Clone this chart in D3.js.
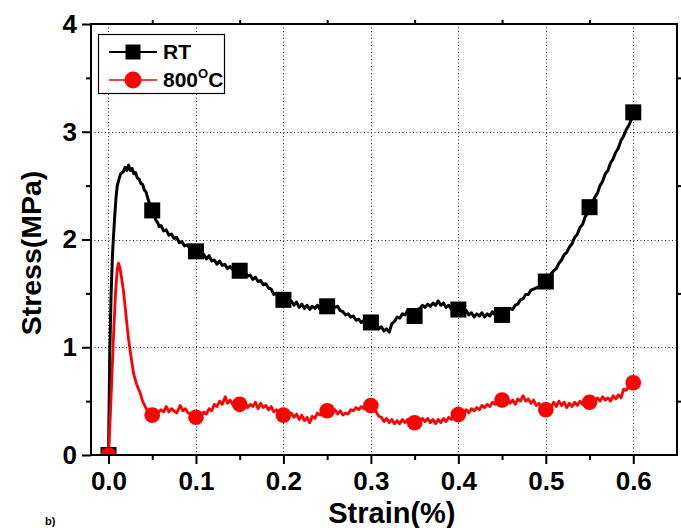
<!DOCTYPE html>
<html>
<head>
<meta charset="utf-8">
<script src="https://cdn.jsdelivr.net/npm/d3@7"></script>
<style>
  html, body { margin: 0; padding: 0; background: #fff; overflow: hidden; }
  text { font-family: "Liberation Sans", Arial, sans-serif; font-weight: bold; }
</style>
</head>
<body>
<svg id="chart" width="681" height="528"></svg>
<script>
// ---- data ----
const xTicks = [0.0, 0.1, 0.2, 0.3, 0.4, 0.5, 0.6];
const xMinorTicks = [0.05, 0.15, 0.25, 0.35, 0.45, 0.55];
const yTicks = [0, 1, 2, 3, 4];
const yMinorTicks = [0.5, 1.5, 2.5, 3.5];
const seriesNames = ["RT", "800"];

const rtCurve = [
  [0,0],[0.0008,0.5],[0.0015,0.97],[0.003,1.5],[0.0045,1.85],[0.0055,2.0],[0.007,2.2],[0.0085,2.38],
  [0.01,2.5],[0.012,2.56],[0.014,2.61],[0.017,2.63],[0.019,2.67],[0.021,2.64],[0.023,2.69],[0.025,2.64],
  [0.027,2.66],[0.029,2.61],[0.031,2.62],[0.033,2.57],[0.035,2.56],[0.037,2.52],[0.039,2.51],[0.041,2.46],
  [0.043,2.44],[0.045,2.38],[0.047,2.33],[0.05,2.27],[0.052,2.24],[0.054,2.18],[0.056,2.16],[0.058,2.12],
  [0.06,2.13],[0.063,2.08],[0.066,2.09],[0.069,2.04],[0.072,2.05],[0.075,2.01],[0.078,2.02],[0.081,1.97],
  [0.084,1.98],[0.087,1.94],[0.09,1.95],[0.094,1.91],[0.097,1.92],[0.1,1.89],[0.103,1.88],[0.106,1.85],
  [0.109,1.86],[0.112,1.82],[0.115,1.85],[0.118,1.80],[0.121,1.81],[0.124,1.77],[0.127,1.80],[0.13,1.76],
  [0.133,1.77],[0.136,1.73],[0.139,1.75],[0.142,1.72],[0.145,1.73],[0.15,1.71],[0.153,1.69],[0.156,1.70],
  [0.159,1.66],[0.162,1.67],[0.165,1.63],[0.168,1.65],[0.171,1.61],[0.174,1.62],[0.177,1.58],[0.18,1.59],
  [0.183,1.55],[0.186,1.54],[0.189,1.49],[0.192,1.50],[0.195,1.46],[0.2,1.44],[0.203,1.45],[0.206,1.41],
  [0.209,1.43],[0.212,1.39],[0.215,1.42],[0.218,1.37],[0.221,1.40],[0.224,1.36],[0.227,1.39],[0.23,1.35],
  [0.233,1.38],[0.236,1.36],[0.239,1.39],[0.242,1.35],[0.245,1.38],[0.25,1.38],[0.253,1.36],[0.256,1.39],
  [0.259,1.37],[0.262,1.38],[0.265,1.34],[0.268,1.33],[0.271,1.30],[0.274,1.31],[0.277,1.28],[0.28,1.29],
  [0.283,1.25],[0.286,1.26],[0.289,1.23],[0.292,1.25],[0.295,1.21],[0.3,1.22],[0.303,1.20],[0.306,1.22],
  [0.309,1.17],[0.312,1.19],[0.315,1.15],[0.318,1.17],[0.321,1.14],[0.324,1.22],[0.327,1.24],[0.33,1.28],
  [0.333,1.27],[0.336,1.31],[0.339,1.30],[0.342,1.34],[0.345,1.31],[0.35,1.31],[0.353,1.35],[0.356,1.36],
  [0.359,1.39],[0.362,1.37],[0.365,1.40],[0.368,1.38],[0.371,1.41],[0.374,1.39],[0.377,1.43],[0.38,1.39],
  [0.383,1.41],[0.386,1.37],[0.389,1.39],[0.392,1.35],[0.395,1.37],[0.4,1.35],[0.403,1.36],[0.406,1.32],
  [0.409,1.34],[0.412,1.30],[0.415,1.32],[0.418,1.28],[0.421,1.31],[0.424,1.29],[0.427,1.32],[0.43,1.28],
  [0.433,1.31],[0.436,1.29],[0.439,1.33],[0.442,1.30],[0.445,1.33],[0.45,1.31],[0.453,1.35],[0.456,1.33],
  [0.459,1.36],[0.462,1.35],[0.465,1.39],[0.468,1.40],[0.471,1.44],[0.474,1.45],[0.477,1.49],[0.48,1.49],
  [0.483,1.53],[0.486,1.54],[0.489,1.55],[0.492,1.56],[0.495,1.59],[0.5,1.61],[0.503,1.64],[0.506,1.68],
  [0.509,1.71],[0.512,1.73],[0.515,1.78],[0.518,1.81],[0.521,1.86],[0.524,1.88],[0.527,1.93],[0.53,1.96],
  [0.533,2.02],[0.536,2.05],[0.539,2.11],[0.542,2.14],[0.545,2.21],[0.55,2.28],[0.553,2.34],[0.556,2.39],
  [0.559,2.43],[0.562,2.50],[0.565,2.54],[0.568,2.61],[0.571,2.64],[0.574,2.71],[0.577,2.75],[0.58,2.81],
  [0.583,2.85],[0.586,2.92],[0.589,2.96],[0.592,3.02],[0.595,3.06],[0.598,3.12],[0.6,3.16]
];

const hotCurve = [
  [0,0],[0.002,0.35],[0.004,0.75],[0.006,1.15],[0.008,1.5],[0.01,1.72],[0.0114,1.78],[0.013,1.74],
  [0.015,1.64],[0.017,1.53],[0.019,1.38],[0.021,1.22],[0.023,1.07],[0.026,0.90],[0.0286,0.76],[0.032,0.66],
  [0.036,0.58],[0.039,0.50],[0.042,0.45],[0.045,0.40],[0.048,0.39],[0.05,0.38],[0.053,0.41],[0.056,0.39],
  [0.06,0.42],[0.063,0.40],[0.066,0.45],[0.069,0.40],[0.072,0.43],[0.075,0.41],[0.078,0.39],[0.082,0.46],
  [0.085,0.41],[0.088,0.43],[0.091,0.39],[0.095,0.38],[0.1,0.36],[0.103,0.39],[0.106,0.36],[0.109,0.40],
  [0.112,0.38],[0.115,0.43],[0.118,0.41],[0.121,0.47],[0.124,0.45],[0.127,0.50],[0.13,0.47],[0.1335,0.54],
  [0.136,0.48],[0.139,0.51],[0.142,0.47],[0.145,0.50],[0.15,0.47],[0.153,0.45],[0.156,0.48],[0.159,0.44],
  [0.162,0.47],[0.165,0.45],[0.168,0.49],[0.171,0.43],[0.174,0.48],[0.177,0.44],[0.18,0.46],[0.183,0.42],
  [0.186,0.45],[0.189,0.40],[0.192,0.42],[0.195,0.38],[0.2,0.37],[0.203,0.40],[0.206,0.36],[0.209,0.39],
  [0.212,0.35],[0.215,0.38],[0.218,0.33],[0.221,0.37],[0.224,0.32],[0.227,0.35],[0.23,0.30],[0.233,0.36],
  [0.236,0.34],[0.239,0.39],[0.242,0.37],[0.245,0.41],[0.25,0.41],[0.253,0.43],[0.256,0.39],[0.259,0.42],
  [0.262,0.38],[0.265,0.41],[0.268,0.37],[0.271,0.39],[0.274,0.38],[0.277,0.42],[0.28,0.41],[0.283,0.44],
  [0.286,0.42],[0.289,0.45],[0.292,0.43],[0.295,0.46],[0.3,0.46],[0.303,0.43],[0.306,0.40],[0.309,0.36],
  [0.312,0.35],[0.315,0.31],[0.318,0.34],[0.321,0.30],[0.324,0.33],[0.327,0.29],[0.33,0.32],[0.333,0.29],
  [0.336,0.33],[0.339,0.30],[0.342,0.33],[0.345,0.29],[0.35,0.30],[0.353,0.33],[0.356,0.30],[0.359,0.34],
  [0.362,0.31],[0.365,0.34],[0.368,0.30],[0.371,0.33],[0.374,0.29],[0.377,0.33],[0.38,0.30],[0.383,0.34],
  [0.386,0.31],[0.389,0.35],[0.392,0.33],[0.395,0.36],[0.4,0.37],[0.403,0.40],[0.406,0.38],[0.409,0.42],
  [0.412,0.39],[0.415,0.43],[0.418,0.41],[0.421,0.44],[0.424,0.42],[0.427,0.46],[0.43,0.44],[0.433,0.47],
  [0.436,0.45],[0.439,0.49],[0.442,0.47],[0.445,0.50],[0.45,0.51],[0.453,0.49],[0.456,0.52],[0.459,0.48],
  [0.462,0.51],[0.465,0.47],[0.468,0.52],[0.471,0.50],[0.474,0.55],[0.477,0.50],[0.48,0.52],[0.483,0.48],
  [0.486,0.51],[0.489,0.46],[0.492,0.48],[0.495,0.44],[0.5,0.43],[0.503,0.46],[0.506,0.44],[0.509,0.49],
  [0.512,0.45],[0.515,0.50],[0.518,0.46],[0.521,0.49],[0.524,0.44],[0.527,0.48],[0.53,0.45],[0.533,0.49],
  [0.536,0.46],[0.539,0.50],[0.542,0.47],[0.545,0.50],[0.55,0.49],[0.553,0.52],[0.556,0.49],[0.559,0.53],
  [0.562,0.50],[0.565,0.54],[0.568,0.51],[0.571,0.53],[0.574,0.50],[0.577,0.55],[0.58,0.52],[0.583,0.56],
  [0.586,0.53],[0.589,0.61],[0.592,0.60],[0.595,0.64],[0.6,0.67]
];

const markerStrain = [0, 0.05, 0.1, 0.15, 0.2, 0.25, 0.3, 0.35, 0.4, 0.45, 0.5, 0.55, 0.6];
const rtMarkers  = [0, 2.27, 1.89, 1.71, 1.44, 1.38, 1.23, 1.29, 1.35, 1.30, 1.61, 2.30, 3.18];
const hotMarkers = [0, 0.37, 0.35, 0.47, 0.37, 0.41, 0.46, 0.30, 0.375, 0.51, 0.42, 0.49, 0.67];

// ---- layout ----
const svg = d3.select("#chart");
const L = 91, R = 677, T = 24, B = 455;
const x = d3.scaleLinear().domain([-0.02, 0.65]).range([L, R]);
const y = d3.scaleLinear().domain([0, 4]).range([B, T]);

svg.append("defs").append("clipPath").attr("id", "plotclip")
  .append("rect").attr("x", L).attr("y", T).attr("width", R - L).attr("height", B - T);

// grid
const grid = svg.append("g").attr("stroke", "#222").attr("stroke-width", 1).attr("stroke-dasharray", "1,2.5");
grid.selectAll("line.vx").data(xTicks).join("line")
  .attr("x1", d => Math.round(x(d)) + 0.5).attr("x2", d => Math.round(x(d)) + 0.5)
  .attr("y1", T).attr("y2", B);
grid.selectAll("line.hy").data(yTicks.filter(d => d > 0 && d < 4)).join("line")
  .attr("y1", d => Math.round(y(d)) + 0.5).attr("y2", d => Math.round(y(d)) + 0.5)
  .attr("x1", L).attr("x2", R);

// curves
const line = d3.line().x(d => x(d[0])).y(d => y(d[1]));
const plot = svg.append("g").attr("clip-path", "url(#plotclip)");
plot.append("path").datum(rtCurve).attr("d", line)
  .attr("fill", "none").attr("stroke", "#000").attr("stroke-width", 3).attr("stroke-linejoin", "round");
plot.append("path").datum(hotCurve).attr("d", line)
  .attr("fill", "none").attr("stroke", "#ff0000").attr("stroke-width", 2.8).attr("stroke-linejoin", "round");

const sq = 16;
plot.selectAll("rect.rt").data(markerStrain.map((s, i) => [s, rtMarkers[i]])).join("rect")
  .attr("x", d => x(d[0]) - sq / 2).attr("y", d => y(d[1]) - sq / 2)
  .attr("width", sq).attr("height", sq).attr("fill", "#000");
plot.selectAll("circle.hot").data(markerStrain.map((s, i) => [s, hotMarkers[i]])).join("circle")
  .attr("cx", d => x(d[0])).attr("cy", d => y(d[1])).attr("r", 7.8).attr("fill", "#ff0000");

// axes
const fmt = d3.format(".1f");
const axB = svg.append("g").attr("transform", `translate(0,${B})`)
  .call(d3.axisBottom(x).tickValues(xTicks).tickSize(9).tickPadding(8).tickFormat(fmt));
const axBm = svg.append("g").attr("transform", `translate(0,${B})`)
  .call(d3.axisBottom(x).tickValues(xMinorTicks).tickSize(5).tickFormat(""));
const axL = svg.append("g").attr("transform", `translate(${L},0)`)
  .call(d3.axisLeft(y).tickValues(yTicks).tickSize(9).tickPadding(5).tickFormat(d3.format("d")));
const axLm = svg.append("g").attr("transform", `translate(${L},0)`)
  .call(d3.axisLeft(y).tickValues(yMinorTicks).tickSize(5).tickFormat(""));
const axT = svg.append("g").attr("transform", `translate(0,${T})`)
  .call(d3.axisTop(x).tickValues(xMinorTicks).tickSize(4).tickFormat(""));
const axR = svg.append("g").attr("transform", `translate(${R},0)`)
  .call(d3.axisRight(y).tickValues(yMinorTicks).tickSize(4).tickFormat(""));

[axB, axBm, axL, axLm, axT, axR].forEach(g => {
  g.select(".domain").remove();
  g.selectAll("line").attr("stroke", "#000").attr("stroke-width", 2);
  g.selectAll("text").attr("fill", "#000").attr("font-size", 26).attr("font-weight", "bold")
    .attr("font-family", "'Liberation Sans', Arial, sans-serif");
});
axL.selectAll("text").attr("font-size", 26);

// frame
svg.append("rect").attr("x", L).attr("y", T).attr("width", R - L).attr("height", B - T)
  .attr("fill", "none").attr("stroke", "#000").attr("stroke-width", 2);

// axis titles
svg.append("text").attr("x", (x(0.3) + 21)).attr("y", 523).attr("text-anchor", "middle")
  .attr("font-size", 29).text("Strain(%)");
svg.append("text").attr("transform", "translate(41,253) rotate(-90)").attr("text-anchor", "middle")
  .attr("font-size", 28.5).text("Stress(MPa)");

// panel label (small, bottom-left)
svg.append("text").attr("x", 45).attr("y", 525).attr("font-size", 11).attr("font-weight", "normal").text("b)");

// legend
const lg = svg.append("g");
lg.append("rect").attr("x", 98.5).attr("y", 34.5).attr("width", 126).attr("height", 59)
  .attr("fill", "#fff").attr("stroke", "#000").attr("stroke-width", 1.2);
const legendRows = [
  { name: seriesNames[0], y: 52, color: "#000", shape: "square" },
  { name: seriesNames[1], y: 80, color: "#ff0000", shape: "circle" }
];
legendRows.forEach(r => {
  lg.append("line").attr("x1", 109).attr("x2", 157).attr("y1", r.y).attr("y2", r.y)
    .attr("stroke", r.color).attr("stroke-width", r.shape === "square" ? 2 : 1.5);
  if (r.shape === "square") {
    lg.append("rect").attr("x", 133 - 7.5).attr("y", r.y - 7.5).attr("width", 15).attr("height", 15).attr("fill", r.color);
  } else {
    lg.append("circle").attr("cx", 133).attr("cy", r.y).attr("r", 8.5).attr("fill", r.color);
  }
  const t = lg.append("text").attr("x", 163).attr("y", r.y + 7).attr("font-size", 21).attr("fill", "#000");
  t.append("tspan").text(r.name);
  if (r.shape === "circle") {
    t.append("tspan").attr("dy", -9).attr("font-size", 13).text("O");
    t.append("tspan").attr("dy", 9).text("C");
  }
});
</script>
</body>
</html>
